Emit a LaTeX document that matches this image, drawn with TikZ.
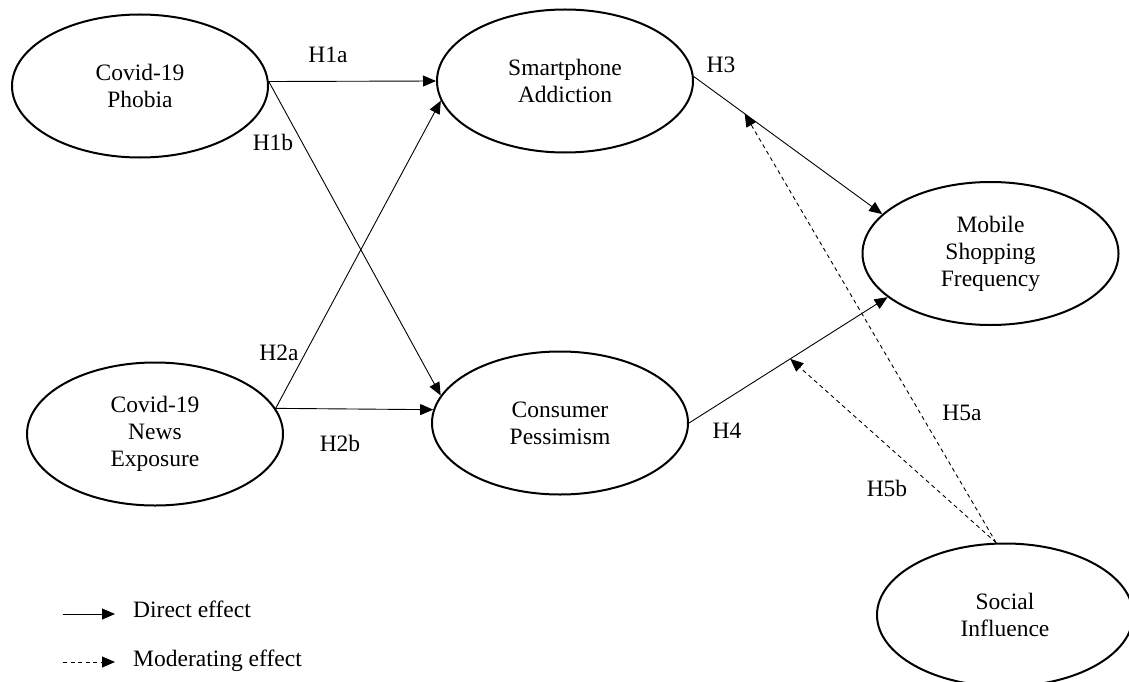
\documentclass[tikz,border=0pt]{standalone}
\usepackage{fontspec}
\setmainfont{Liberation Serif}
\usetikzlibrary{shapes.geometric,arrows.meta}
\begin{document}
\begin{tikzpicture}[x=1pt,y=-1pt,
  construct/.style={ellipse,draw,line width=2pt,minimum width=256pt,minimum height=143pt,
    inner sep=0pt,align=center,font=\fontsize{23.5}{27}\selectfont},
  lbl/.style={inner sep=0pt,font=\fontsize{23.5}{27}\selectfont},
  direct/.style={line width=0.9pt,-{Triangle[length=13pt,width=11pt]}},
  moder/.style={direct,dash pattern=on 4pt off 3.5pt}]
\clip (0,0) rectangle (1129,682);
\fill[white] (0,0) rectangle (1129,682);
% constructs
\node[construct] (PH) at (140,86) {Covid-19\\Phobia};
\node[construct] (SA) at (565,81) {Smartphone\\Addiction};
\node[construct] (NE) at (155,434) {Covid-19\\News\\Exposure};
\node[construct] (CP) at (560,423) {Consumer\\Pessimism};
\node[construct] (MSF) at (990.5,253.5) {Mobile\\Shopping\\Frequency};
\node[construct] (SI) at (1005,615) {Social\\Influence};
% direct effects
\draw[direct] (PH.2) -- (SA.west);
\draw[direct] (PH.2) -- (CP.167);
\draw[direct] (NE.12) -- (SA.189);
\draw[direct] (NE.12) -- (CP.174);
\draw[direct] (SA.2) -- coordinate[pos=0.27] (h3m) (MSF.160);
\draw[direct] (CP.east) -- coordinate[pos=0.51] (h4m) (MSF.203);
% moderating effects
\draw[moder] (SI.97) -- (h3m);
\draw[moder] (SI.97) -- (h4m);
% labels
\node[lbl] (lH1a) at (328,55) {H1a};
\node[lbl] (lH1b) at (273,142) {H1b};
\node[lbl] (lH2a) at (279,353) {H2a};
\node[lbl] (lH2b) at (340,443) {H2b};
\node[lbl] (lH3) at (721,65) {H3};
\node[lbl] (lH4) at (727,431) {H4};
\node[lbl] (lH5a) at (962,413) {H5a};
\node[lbl] (lH5b) at (887,488) {H5b};
% legend
\coordinate (d1) at (63,614);
\coordinate (d2) at (115,614);
\coordinate (m1) at (63,662);
\coordinate (m2) at (115,662);
\draw[direct] (d1) -- (d2);
\draw[moder] (m1) -- (m2);
\node[lbl,anchor=base west] (ldir) at (133,617) {Direct effect};
\node[lbl,anchor=base west] (lmod) at (133,666) {Moderating effect};
\end{tikzpicture}
\end{document}
